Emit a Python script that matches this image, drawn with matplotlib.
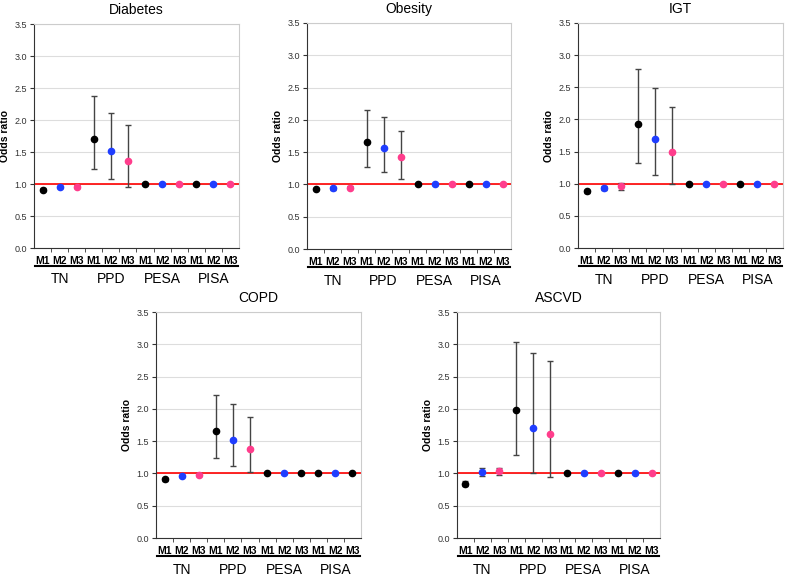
import matplotlib
matplotlib.use('Agg')
import matplotlib.pyplot as plt
import numpy as np

plt.rcParams['font.family'] = ['Liberation Sans', 'DejaVu Sans']

groups = ['TN', 'PPD', 'PESA', 'PISA']
models = ['M1', 'M2', 'M3']

# odds ratio, lower CI, upper CI for 12 points (TN M1..M3, PPD M1..M3, PESA..., PISA...)
diabetes_or = [0.91, 0.95, 0.96, 1.70, 1.51, 1.36, 1.00, 1.00, 1.00, 1.00, 1.00, 1.00]
diabetes_lo = [0.89, 0.93, 0.93, 1.23, 1.08, 0.96, 0.99, 0.99, 0.99, 0.99, 0.99, 0.99]
diabetes_hi = [0.93, 0.97, 0.99, 2.37, 2.11, 1.92, 1.01, 1.01, 1.01, 1.01, 1.01, 1.01]

obesity_or = [0.93, 0.94, 0.95, 1.65, 1.57, 1.42, 1.00, 1.00, 1.00, 1.00, 1.00, 1.00]
obesity_lo = [0.92, 0.92, 0.94, 1.27, 1.20, 1.09, 0.99, 0.99, 0.99, 0.99, 0.99, 0.99]
obesity_hi = [0.94, 0.96, 0.97, 2.15, 2.04, 1.83, 1.01, 1.01, 1.01, 1.01, 1.01, 1.01]

igt_or = [0.88, 0.94, 0.96, 1.93, 1.69, 1.49, 1.00, 1.00, 1.00, 1.00, 1.00, 1.00]
igt_lo = [0.85, 0.91, 0.91, 1.33, 1.14, 1.00, 0.99, 0.99, 0.99, 0.99, 0.99, 0.99]
igt_hi = [0.91, 0.97, 1.01, 2.79, 2.49, 2.20, 1.01, 1.01, 1.01, 1.01, 1.01, 1.01]

copd_or = [0.91, 0.96, 0.98, 1.66, 1.52, 1.38, 1.00, 1.00, 1.00, 1.00, 1.00, 1.00]
copd_lo = [0.89, 0.94, 0.96, 1.24, 1.12, 1.02, 0.99, 0.99, 0.99, 0.99, 0.99, 0.99]
copd_hi = [0.93, 0.98, 1.00, 2.21, 2.07, 1.87, 1.01, 1.01, 1.01, 1.01, 1.01, 1.01]

ascvd_or = [0.84, 1.02, 1.03, 1.99, 1.71, 1.61, 1.00, 1.00, 1.00, 1.00, 1.00, 1.00]
ascvd_lo = [0.80, 0.96, 0.97, 1.29, 1.00, 0.94, 0.99, 0.99, 0.99, 0.99, 0.99, 0.99]
ascvd_hi = [0.88, 1.08, 1.09, 3.04, 2.87, 2.74, 1.01, 1.01, 1.01, 1.01, 1.01, 1.01]

BLACK = '#000000'
BLUE = '#1f3dff'
PINK = '#ff3d8c'
default_colors = [BLACK, BLUE, PINK] * 4
# COPD: M3 of PESA and PISA drawn in black in the original
copd_colors = [BLACK, BLUE, PINK, BLACK, BLUE, PINK, BLACK, BLUE, BLACK, BLACK, BLUE, BLACK]

panels = [
    ('Diabetes', diabetes_or, diabetes_lo, diabetes_hi, default_colors, [34, 24, 205, 224]),
    ('Obesity', obesity_or, obesity_lo, obesity_hi, default_colors, [307, 23, 204, 226]),
    ('IGT', igt_or, igt_lo, igt_hi, default_colors, [578, 23, 205, 225]),
    ('COPD', copd_or, copd_lo, copd_hi, copd_colors, [156, 312, 205, 226]),
    ('ASCVD', ascvd_or, ascvd_lo, ascvd_hi, default_colors, [457, 312, 203, 226]),
]

W, H = 787, 576
fig = plt.figure(figsize=(W / 100, H / 100), dpi=100)

for title, orv, lo, hi, cols, (px, py, pw, ph) in panels:
    ax = fig.add_axes([px / W, 1 - (py + ph) / H, pw / W, ph / H])
    x = np.arange(len(orv))
    orv = np.array(orv)
    err = np.vstack([orv - np.array(lo), np.array(hi) - orv])

    ax.set_xlim(-0.5, len(orv) - 0.5)
    ax.set_ylim(0, 3.5)
    ax.set_yticks(np.arange(0, 3.51, 0.5))
    ax.set_yticklabels(['%.1f' % v for v in np.arange(0, 3.51, 0.5)], fontsize=6.5, color='#333333')
    ax.yaxis.grid(True, color='#dddddd', linewidth=0.8)
    ax.set_axisbelow(True)

    ax.axhline(1.0, color='#ff0000', linewidth=1.2, zorder=2)
    for i in range(len(orv)):
        ax.errorbar(x[i], orv[i], yerr=err[:, i:i + 1], fmt='o', color=cols[i],
                    ecolor='#444444', elinewidth=1, capsize=2, capthick=1,
                    markersize=4.5, zorder=3)

    ax.set_xticks(x)
    ax.set_xticklabels(models * 4, fontsize=7.5, fontweight='bold')
    ax.tick_params(axis='x', length=0, pad=6)
    ax.set_xticks(np.arange(-0.5, len(orv), 1)[1:-1], minor=True)
    ax.tick_params(axis='x', which='minor', length=3, color='#333333')
    ax.tick_params(axis='y', length=3, color='#333333', pad=2)

    for s in ['top', 'right']:
        ax.spines[s].set_color('#cccccc')
    for s in ['left', 'bottom']:
        ax.spines[s].set_color('#333333')

    ax.set_ylabel('Odds ratio', fontsize=7.5, fontweight='bold', labelpad=3)
    ax.set_title(title, fontsize=10, pad=7)

    trans = ax.get_xaxis_transform()
    for g, name in enumerate(groups):
        start = g * 3 - 0.45
        end = g * 3 + 2.45
        ax.plot([start, end], [-0.08, -0.08], color='black', linewidth=1.5,
                transform=trans, clip_on=False)
        ax.text(g * 3 + 1, -0.14, name, transform=trans, ha='center', va='center',
                fontsize=10)

fig.savefig('out.png', dpi=100)
